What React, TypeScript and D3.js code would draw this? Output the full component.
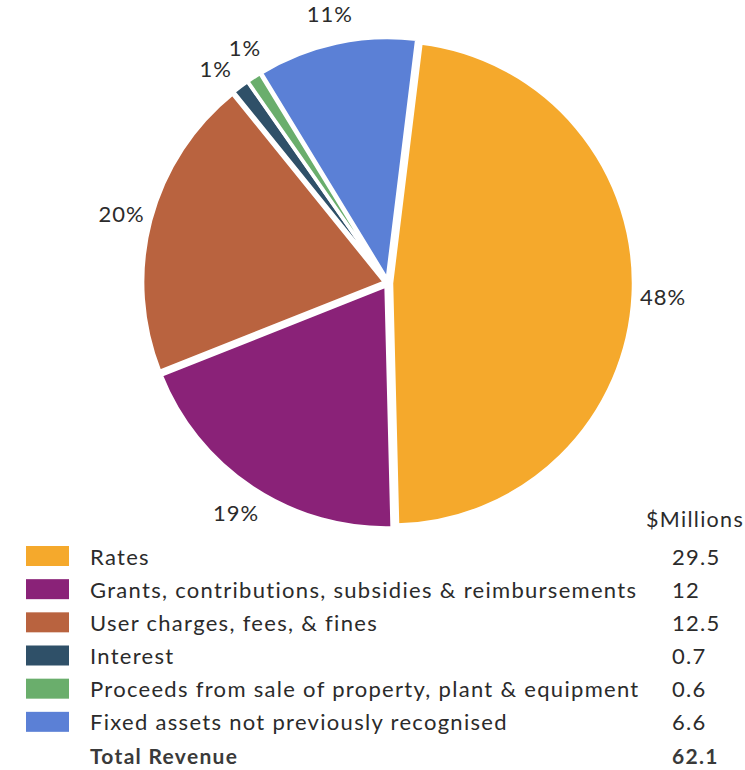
import * as d3 from "d3";

// Revenue breakdown ($Millions)
const categories = [
  "Rates",
  "Grants, contributions, subsidies & reimbursements",
  "User charges, fees, & fines",
  "Interest",
  "Proceeds from sale of property, plant & equipment",
  "Fixed assets not previously recognised",
];
const values = [29.5, 12, 12.5, 0.7, 0.6, 6.6];
const valueLabels = ["29.5", "12", "12.5", "0.7", "0.6", "6.6"];
const percentLabels = ["48%", "19%", "20%", "1%", "1%", "11%"];
const colors = ["#F5A92C", "#8A2278", "#B9633F", "#2F5068", "#6AAE6C", "#5B80D6"];
const totalLabel = "Total Revenue";
const totalValue = "62.1";
const unitLabel = "$Millions";

const WIDTH = 745;
const HEIGHT = 770;
const CX = 388;
const CY = 283;
const R = 242;
const LABEL_R = 272;
const EXPLODE = 3.5;
const START = (7 * Math.PI) / 180;
const MIN_LABEL_SEP = (7.5 * Math.PI) / 180;
const FONT = "Lato, 'Noto Sans', sans-serif";
const TEXT = "#2b2b2b";

export default function App() {
  const pie = d3
    .pie<number>()
    .sort(null)
    .value((d) => d)
    .startAngle(START)
    .endAngle(START + 2 * Math.PI);
  const slices = pie(values);

  const arc = d3.arc<d3.PieArcDatum<number>>().innerRadius(0).outerRadius(R);

  // label angles at slice bisectors, spread apart where they would collide
  const mids = slices.map((s) => (s.startAngle + s.endAngle) / 2);
  const labelAngles = mids.slice();
  for (let i = 0; i < labelAngles.length - 1; i++) {
    const gap = labelAngles[i + 1] - labelAngles[i];
    if (gap < MIN_LABEL_SEP) {
      const push = (MIN_LABEL_SEP - gap) / 2;
      labelAngles[i] -= push;
      labelAngles[i + 1] += push;
    }
  }

  // legend rows (6 categories + total)
  const rowY = d3
    .scalePoint<number>()
    .domain(d3.range(categories.length + 1))
    .range([556, 755]);

  return (
    <svg
      width={WIDTH}
      height={HEIGHT}
      style={{ position: "absolute", left: 0, top: 0, background: "#fff" }}
      fontFamily={FONT}
    >
      <g transform={`translate(${CX},${CY})`}>
        {slices.map((s, i) => {
          const dx = Math.sin(mids[i]) * EXPLODE;
          const dy = -Math.cos(mids[i]) * EXPLODE;
          return (
            <path
              key={categories[i]}
              d={arc(s) ?? ""}
              transform={`translate(${dx},${dy})`}
              fill={colors[i]}
              stroke="#fff"
              strokeWidth={3.5}
              strokeLinejoin="round"
            />
          );
        })}
        {slices.map((s, i) => {
          const a = labelAngles[i];
          const lx = Math.sin(a) * LABEL_R + Math.sin(mids[i]) * EXPLODE;
          const ly = -Math.cos(a) * LABEL_R - Math.cos(mids[i]) * EXPLODE;
          return (
            <text
              key={`l${i}`}
              x={lx}
              y={ly}
              textAnchor="middle"
              dominantBaseline="central"
              fontSize={22}
              letterSpacing={1}
              fill={TEXT}
            >
              {percentLabels[i]}
            </text>
          );
        })}
      </g>

      {/* Legend */}
      <text
        x={744}
        y={527}
        textAnchor="end"
        fontSize={21.5}
        letterSpacing={1.3}
        fill={TEXT}
      >
        {unitLabel}
      </text>
      {categories.map((c, i) => (
        <g key={c} transform={`translate(0,${rowY(i)})`}>
          <rect x={26} y={-10} width={43} height={20} fill={colors[i]} />
          <text
            x={90}
            y={0}
            dominantBaseline="central"
            fontSize={22}
            letterSpacing={1.3}
            fill={TEXT}
          >
            {c}
          </text>
          <text
            x={672}
            y={0}
            dominantBaseline="central"
            fontSize={22}
            letterSpacing={1.3}
            fill={TEXT}
          >
            {valueLabels[i]}
          </text>
        </g>
      ))}
      <g transform={`translate(0,${rowY(categories.length)})`}>
        <text
          x={90}
          y={0}
          dominantBaseline="central"
          fontSize={21}
          fontWeight={700}
          letterSpacing={1.3}
          fill="#3a3a3a"
        >
          {totalLabel}
        </text>
        <text
          x={672}
          y={0}
          dominantBaseline="central"
          fontSize={21}
          fontWeight={700}
          letterSpacing={1.3}
          fill="#3a3a3a"
        >
          {totalValue}
        </text>
      </g>
    </svg>
  );
}
